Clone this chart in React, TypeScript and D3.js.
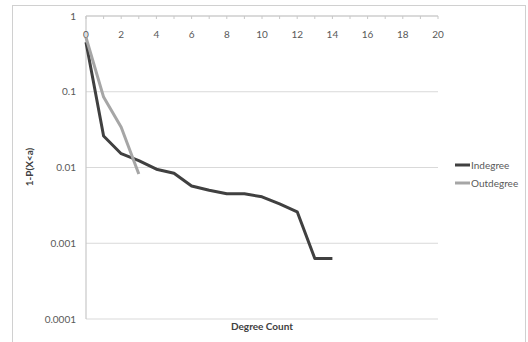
import React, { useEffect, useRef } from "react";
import * as d3 from "d3";

const degrees = [0, 1, 2, 3, 4, 5, 6, 7, 8, 9, 10, 11, 12, 13, 14];
const indegree = [0.45, 0.026, 0.0152, 0.0123, 0.0095, 0.0084, 0.0057, 0.005, 0.0045, 0.0045, 0.0041, 0.0033, 0.0026, 0.00063, 0.00063];
const outDegrees = [0, 1, 2, 3];
const outdegree = [0.52, 0.085, 0.034, 0.0082];
const yTicks = [1, 0.1, 0.01, 0.001, 0.0001];
const xTicks = [0, 2, 4, 6, 8, 10, 12, 14, 16, 18, 20];
const seriesNames = ["Indegree", "Outdegree"];
const seriesColors = ["#404040", "#a6a6a6"];

const App = () => {
  const svgRef = useRef<SVGSVGElement>(null);

  useEffect(() => {
    const svg = d3.select(svgRef.current);
    svg.selectAll("*").remove();
    const font = "Lato, 'Open Sans', sans-serif";

    // outer frame (bottom edge is cut off in the picture)
    svg.append("rect")
      .attr("x", 12.5).attr("y", 5.5)
      .attr("width", 513).attr("height", 360)
      .attr("fill", "white").attr("stroke", "#d0d0d0");

    const x = d3.scaleLinear().domain([0, 20]).range([86, 438]);
    const y = d3.scaleLog().domain([0.0001, 1]).range([319, 16]);

    const g = svg.append("g");

    // gridlines
    g.selectAll("line.grid")
      .data(yTicks)
      .enter().append("line")
      .attr("x1", x(0)).attr("x2", x(20))
      .attr("y1", d => y(d)).attr("y2", d => y(d))
      .attr("stroke", "#d9d9d9").attr("stroke-width", 1.2);

    // y axis line
    g.append("line")
      .attr("x1", x(0)).attr("x2", x(0))
      .attr("y1", y(1)).attr("y2", y(0.0001))
      .attr("stroke", "#c8c8c8").attr("stroke-width", 1.2);

    // x axis at top with small ticks each unit
    g.append("line")
      .attr("x1", x(0)).attr("x2", x(20))
      .attr("y1", y(1)).attr("y2", y(1))
      .attr("stroke", "#c8c8c8").attr("stroke-width", 1.2);
    g.selectAll("line.xtick")
      .data(d3.range(0, 21))
      .enter().append("line")
      .attr("x1", d => x(d)).attr("x2", d => x(d))
      .attr("y1", y(1)).attr("y2", y(1) + 3)
      .attr("stroke", "#c8c8c8");

    g.selectAll("text.xlab")
      .data(xTicks)
      .enter().append("text")
      .attr("x", d => x(d)).attr("y", 38)
      .attr("text-anchor", "middle")
      .attr("font-family", font).attr("font-size", 10)
      .attr("fill", "#595959")
      .text(d => d);

    g.selectAll("text.ylab")
      .data(yTicks)
      .enter().append("text")
      .attr("x", 76).attr("y", d => y(d) + 3.5)
      .attr("text-anchor", "end")
      .attr("font-family", font).attr("font-size", 10)
      .attr("fill", "#595959")
      .text(d => String(d));

    // axis titles
    g.append("text")
      .attr("transform", "translate(33,167) rotate(-90)")
      .attr("text-anchor", "middle")
      .attr("font-family", font).attr("font-size", 10).attr("font-weight", "bold")
      .attr("fill", "#404040")
      .text("1-P(X<a)");
    g.append("text")
      .attr("x", (x(0) + x(20)) / 2).attr("y", 330)
      .attr("text-anchor", "middle")
      .attr("font-family", font).attr("font-size", 10).attr("font-weight", "bold")
      .attr("fill", "#404040")
      .text("Degree Count");

    const line = d3.line<[number, number]>()
      .x(d => x(d[0]))
      .y(d => y(d[1]));

    const seriesData: [number, number][][] = [
      degrees.map((d, i) => [d, indegree[i]]),
      outDegrees.map((d, i) => [d, outdegree[i]]),
    ];

    seriesData.forEach((s, i) => {
      g.append("path")
        .datum(s)
        .attr("fill", "none")
        .attr("stroke", seriesColors[i])
        .attr("stroke-width", 3)
        .attr("stroke-linejoin", "round")
        .attr("d", line);
    });

    // legend
    seriesNames.forEach((name, i) => {
      const ly = 165 + i * 18;
      g.append("line")
        .attr("x1", 455).attr("x2", 470)
        .attr("y1", ly).attr("y2", ly)
        .attr("stroke", seriesColors[i]).attr("stroke-width", 3);
      g.append("text")
        .attr("x", 471).attr("y", ly + 3.5)
        .attr("font-family", font).attr("font-size", 10)
        .attr("fill", "#595959")
        .text(name);
    });
  }, []);

  return (
    <svg
      ref={svgRef}
      width={528}
      height={342}
      style={{ position: "absolute", left: 0, top: 0, background: "white" }}
    ></svg>
  );
};

export default App;
